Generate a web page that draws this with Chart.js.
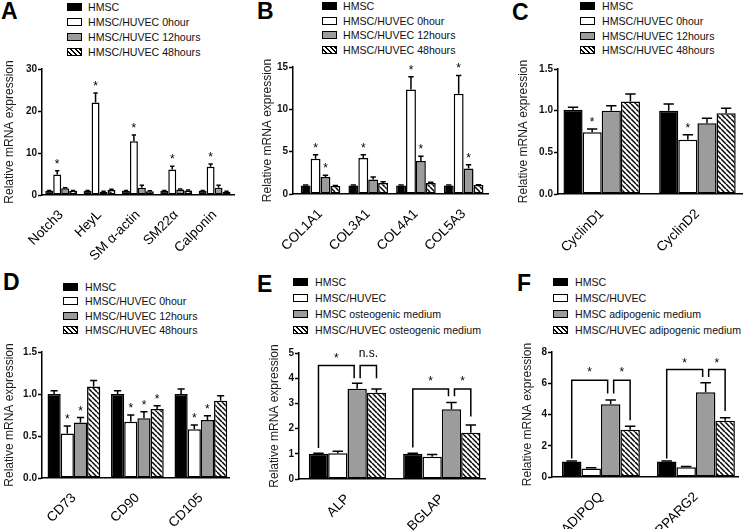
<!DOCTYPE html>
<html>
<head>
<meta charset="utf-8">
<script src="https://cdn.jsdelivr.net/npm/chart.js@4.4.1/dist/chart.umd.min.js"></script>
<style>
  body { margin: 0; width: 750px; height: 532px; overflow: hidden; background: #fff; position: relative;
         font-family: "Liberation Sans", Arial, sans-serif; }
  .letter { position: absolute; font-weight: bold; font-size: 23px; line-height: 1; color: #000; }
  .lg { position: absolute; font-size: 10.6px; line-height: 12px; color: #111; white-space: nowrap; }
  .sw { position: absolute; width: 13px; height: 6px; border: 1px solid #000; }
  canvas { position: absolute; }
</style>
</head>
<body>
<script>
// series names
const seriesTime = ['HMSC', 'HMSC/HUVEC 0hour', 'HMSC/HUVEC 12hours', 'HMSC/HUVEC 48hours'];
const seriesOsteo = ['HMSC', 'HMSC/HUVEC', 'HMSC osteogenic medium', 'HMSC/HUVEC osteogenic medium'];
const seriesAdipo = ['HMSC', 'HMSC/HUVEC', 'HMSC adipogenic medium', 'HMSC/HUVEC adipogenic medium'];

// A - smooth muscle markers
const genesA = ['Notch3', 'HeyL', 'SM α-actin', 'SM22α', 'Calponin'];
const valuesA = [
  [1.0, 1.0, 1.0, 1.0, 1.0],
  [4.9, 22.0, 12.8, 6.1, 6.7],
  [1.6, 0.8, 1.7, 1.3, 1.75],
  [1.0, 1.2, 0.9, 1.1, 0.8]
];
const errorsA = [
  [0.05, 0.05, 0.05, 0.05, 0.05],
  [0.9, 2.3, 1.5, 0.75, 0.7],
  [0.15, 0.1, 0.6, 0.1, 0.55],
  [0.1, 0.15, 0.1, 0.1, 0.1]
];
const starsA = [[0, 1], [1, 1], [2, 1], [3, 1], [4, 1]];
const ticksA = [0, 10, 20, 30];

// B - collagens
const genesB = ['COL1A1', 'COL3A1', 'COL4A1', 'COL5A3'];
const valuesB = [
  [1.0, 1.0, 1.0, 1.0],
  [4.15, 4.25, 12.35, 11.85],
  [2.0, 1.7, 3.9, 3.0],
  [0.95, 1.3, 1.3, 1.05]
];
const errorsB = [
  [0.05, 0.05, 0.05, 0.05],
  [0.5, 0.4, 1.5, 2.15],
  [0.2, 0.3, 0.55, 0.45],
  [0.05, 0.15, 0.1, 0.05]
];
const starsB = [[0, 1], [0, 2], [1, 1], [2, 1], [2, 2], [3, 1], [3, 2]];
const ticksB = [0, 5, 10, 15];

// C - cyclins
const genesC = ['CyclinD1', 'CyclinD2'];
const valuesC = [
  [1.01, 1.0],
  [0.74, 0.65],
  [1.0, 0.85],
  [1.11, 0.97]
];
const errorsC = [
  [0.03, 0.08],
  [0.04, 0.06],
  [0.06, 0.06],
  [0.09, 0.06]
];
const starsC = [[0, 1], [1, 1]];
const ticksC = [0, 0.5, 1.0, 1.5];

// D - MSC surface markers
const genesD = ['CD73', 'CD90', 'CD105'];
const valuesD = [
  [1.0, 1.0, 1.0],
  [0.53, 0.67, 0.58],
  [0.66, 0.71, 0.69],
  [1.09, 0.82, 0.92]
];
const errorsD = [
  [0.04, 0.04, 0.06],
  [0.09, 0.08, 0.05],
  [0.06, 0.08, 0.05],
  [0.07, 0.04, 0.06]
];
const starsD = [[0, 1], [0, 2], [1, 1], [1, 2], [1, 3], [2, 1], [2, 2]];
const ticksD = [0, 0.5, 1.0, 1.5];

// E - osteogenic
const genesE = ['ALP', 'BGLAP'];
const valuesE = [
  [1.0, 1.0],
  [1.02, 0.88],
  [3.58, 2.77],
  [3.42, 1.84]
];
const errorsE = [
  [0.02, 0.02],
  [0.08, 0.09],
  [0.22, 0.27],
  [0.15, 0.3]
];
const bracketsE = [
  { cat: 0, from: 0, to: 2, top: 4.5, lo: [1.23, 4.0], label: '*', labelAt: 4.93 },
  { cat: 0, from: 2, to: 3, top: 4.5, lo: [4.0, 4.0], label: 'n.s.', labelAt: 4.98 },
  { cat: 1, from: 0, to: 2, top: 3.57, lo: [1.25, 3.28], label: '*', labelAt: 4.0 },
  { cat: 1, from: 2, to: 3, top: 3.57, lo: [3.28, 2.48], label: '*', labelAt: 4.0 }
];
const ticksE = [0, 1, 2, 3, 4, 5];

// F - adipogenic
const genesF = ['ADIPOQ', 'PPARG2'];
const valuesF = [
  [1.0, 1.0],
  [0.55, 0.62],
  [4.65, 5.43],
  [3.03, 3.6]
];
const errorsF = [
  [0.03, 0.03],
  [0.05, 0.06],
  [0.28, 0.6],
  [0.22, 0.2]
];
const bracketsF = [
  { cat: 0, from: 0, to: 2, top: 6.2, lo: [1.18, 5.34], label: '*', labelAt: 6.94 },
  { cat: 0, from: 2, to: 3, top: 6.2, lo: [5.34, 3.63], label: '*', labelAt: 6.94 },
  { cat: 1, from: 0, to: 2, top: 6.88, lo: [1.18, 6.4], label: '*', labelAt: 7.48 },
  { cat: 1, from: 2, to: 3, top: 6.88, lo: [6.4, 4.23], label: '*', labelAt: 7.48 }
];
const ticksF = [0, 2, 4, 6, 8];

const FONT = '"Liberation Sans", Arial, sans-serif';
Chart.defaults.font.family = FONT;

function makeHatch() {
  const s = 5;
  const c = document.createElement('canvas');
  c.width = s; c.height = s;
  const g = c.getContext('2d');
  g.fillStyle = '#fff';
  g.fillRect(0, 0, s, s);
  g.strokeStyle = '#000';
  g.lineWidth = 1.5;
  for (let k = -1; k <= 1; k++) {
    g.beginPath();
    g.moveTo(k * s, 0);
    g.lineTo(k * s + s, s);
    g.stroke();
  }
  return g.createPattern(c, 'repeat');
}
const fills = ['#000', '#fff', '#9c9c9c', makeHatch()];
const swatchCss = ['#000', '#fff', '#9c9c9c',
  'repeating-linear-gradient(45deg, #fff 0 1.7px, #000 1.7px 3.4px)'];

// panel layout (pixel positions kept apart from the data)
const panels = [
  { letter: 'A', at: [1, -0.5], cats: genesA, series: seriesTime, values: valuesA, errors: errorsA, stars: starsA, yTicks: ticksA,
    axisX: 42, topY: 69, botY: 195, xEnd: 234, W: 40, xMin: -0.5, xMax: 4.506, group: 0.83, xh: 70,
    legend: { sw: 67, tx: 88, rows: [6.5, 21.5, 36.5, 51.5] } },
  { letter: 'B', at: [257, 0], cats: genesB, series: seriesTime, values: valuesB, errors: errorsB, stars: starsB, yTicks: ticksB,
    axisX: 293, topY: 67, botY: 194, xEnd: 488, W: 33, xMin: -0.577, xMax: 3.511, group: 0.83, xh: 70,
    legend: { sw: 322, tx: 343, rows: [6, 20.5, 35, 49.5] } },
  { letter: 'C', at: [512, 0.5], cats: genesC, series: seriesTime, values: valuesC, errors: errorsC, stars: starsC, yTicks: ticksC,
    axisX: 558, topY: 69, botY: 194, xEnd: 742, W: 42, xMin: -0.457, xMax: 1.466, group: 0.80, xh: 70, dec: 1,
    legend: { sw: 580, tx: 602, rows: [6, 21, 35.5, 50] } },
  { letter: 'D', at: [3, 270.5], cats: genesD, series: seriesTime, values: valuesD, errors: errorsD, stars: starsD, yTicks: ticksD,
    axisX: 42, topY: 352, botY: 478, xEnd: 229, W: 40, xMin: -0.502, xMax: 2.443, group: 0.83, xh: 52, dec: 1,
    legend: { sw: 63, tx: 85, rows: [286.5, 301, 315.5, 330] } },
  { letter: 'E', at: [257, 273], cats: genesE, series: seriesOsteo, values: valuesE, errors: errorsE, brackets: bracketsE, yTicks: ticksE,
    axisX: 299, topY: 353, botY: 479, xEnd: 485, W: 32, xMin: -0.514, xMax: 1.458, group: 0.82, xh: 52,
    legend: { sw: 293, tx: 315, rows: [282, 298, 314, 330] } },
  { letter: 'F', at: [517, 271.5], cats: genesF, series: seriesAdipo, values: valuesF, errors: errorsF, brackets: bracketsF, yTicks: ticksF,
    axisX: 552, topY: 352, botY: 477, xEnd: 738, W: 32, xMin: -0.515, xMax: 1.443, group: 0.82, xh: 52,
    legend: { sw: 553, tx: 575, rows: [282, 298, 314, 330] } }
];

function addDiv(cls, x, y, text) {
  const d = document.createElement('div');
  d.className = cls;
  d.style.left = x + 'px';
  d.style.top = y + 'px';
  if (text != null) d.textContent = text;
  document.body.appendChild(d);
  return d;
}

// error bars, asterisks and comparison brackets
function makeExtras(p) {
  return {
    id: 'extras',
    afterDatasetsDraw(chart) {
      const ctx = chart.ctx;
      const y = chart.scales.y;
      ctx.save();
      ctx.strokeStyle = '#000';
      ctx.lineWidth = 1.5;
      p.errors.forEach((errs, s) => {
        const meta = chart.getDatasetMeta(s);
        meta.data.forEach((bar, i) => {
          const top = y.getPixelForValue(p.values[s][i] + errs[i]);
          const half = bar.width * 0.27;
          ctx.beginPath();
          ctx.moveTo(bar.x, bar.y);
          ctx.lineTo(bar.x, top);
          ctx.moveTo(bar.x - half, top);
          ctx.lineTo(bar.x + half, top);
          ctx.stroke();
        });
      });
      ctx.fillStyle = '#000';
      ctx.textAlign = 'center';
      ctx.textBaseline = 'alphabetic';
      ctx.font = '12px ' + FONT;
      (p.stars || []).forEach(([c, s]) => {
        const bar = chart.getDatasetMeta(s).data[c];
        const top = y.getPixelForValue(p.values[s][c] + p.errors[s][c]);
        ctx.fillText('*', bar.x, top - 10 + 7);
      });
      (p.brackets || []).forEach(b => {
        const b0 = chart.getDatasetMeta(b.from).data[b.cat];
        const b1 = chart.getDatasetMeta(b.to).data[b.cat];
        const x0 = b0.x + (b.from === 2 ? 3 : 0);
        const x1 = b1.x - (b.to === 2 ? 3 : 0);
        const yt = y.getPixelForValue(b.top);
        ctx.beginPath();
        ctx.moveTo(x0, y.getPixelForValue(b.lo[0]));
        ctx.lineTo(x0, yt);
        ctx.lineTo(x1, yt);
        ctx.lineTo(x1, y.getPixelForValue(b.lo[1]));
        ctx.stroke();
        const ly = y.getPixelForValue(b.labelAt);
        if (b.label === '*') ctx.fillText('*', (x0 + x1) / 2, ly + 7);
        else ctx.fillText(b.label, (x0 + x1) / 2, ly + 3.2);
      });
      ctx.restore();
    }
  };
}

function drawPanel(p) {
  addDiv('letter', p.at[0], p.at[1], p.letter);
  p.series.forEach((name, s) => {
    const r = p.legend.rows[s];
    const sw = addDiv('sw', p.legend.sw, r - 4);
    sw.style.background = swatchCss[s];
    addDiv('lg', p.legend.tx, r - 6, name);
  });

  const PW = p.xEnd - p.axisX;
  const PH = p.botY - p.topY;
  const cv = document.createElement('canvas');
  cv.width = p.W + PW + 8;
  cv.height = 10 + PH + p.xh;
  cv.style.left = (p.axisX - p.W) + 'px';
  cv.style.top = (p.topY - 10) + 'px';
  document.body.appendChild(cv);

  const yMax = p.yTicks[p.yTicks.length - 1];
  new Chart(cv, {
    type: 'bar',
    data: {
      datasets: p.values.map((vals, s) => ({
        label: p.series[s],
        data: vals.map((v, i) => ({ x: i, y: v })),
        backgroundColor: fills[s],
        borderColor: '#000',
        borderWidth: 1.5,
        borderSkipped: false,
        categoryPercentage: p.group,
        barPercentage: 1
      }))
    },
    options: {
      responsive: false,
      animation: false,
      devicePixelRatio: 1,
      events: [],
      layout: { padding: { top: 10, right: 8, left: 0, bottom: 0 } },
      plugins: { legend: { display: false }, tooltip: { enabled: false } },
      scales: {
        x: {
          type: 'linear',
          offset: false,
          min: p.xMin,
          max: p.xMax,
          grid: { display: false },
          border: { display: true, color: '#000', width: 1.5 },
          afterBuildTicks: sc => { sc.ticks = p.cats.map((c, i) => ({ value: i })); },
          afterFit: sc => { sc.height = p.xh; },
          ticks: {
            autoSkip: false, minRotation: 45, maxRotation: 45, padding: 4,
            color: '#000', font: { size: 13.5 },
            callback: v => p.cats[v]
          }
        },
        y: {
          min: 0,
          max: yMax,
          afterBuildTicks: sc => { sc.ticks = p.yTicks.map(v => ({ value: v })); },
          afterFit: sc => { sc.width = p.W; },
          grid: { drawOnChartArea: false, drawTicks: true, tickLength: 4, color: '#000', tickColor: '#000', tickWidth: 1.5 },
          border: { display: true, color: '#000', width: 1.5 },
          ticks: {
            padding: 1, color: '#111', font: { size: 10, weight: 'bold' },
            callback: v => p.dec ? v.toFixed(p.dec) : String(v)
          },
          title: { display: true, text: 'Relative mRNA expression', color: '#1a1a1a', font: { size: 12 }, padding: 0 }
        }
      }
    },
    plugins: [makeExtras(p)]
  });
}

panels.forEach(drawPanel);
</script>
</body>
</html>
